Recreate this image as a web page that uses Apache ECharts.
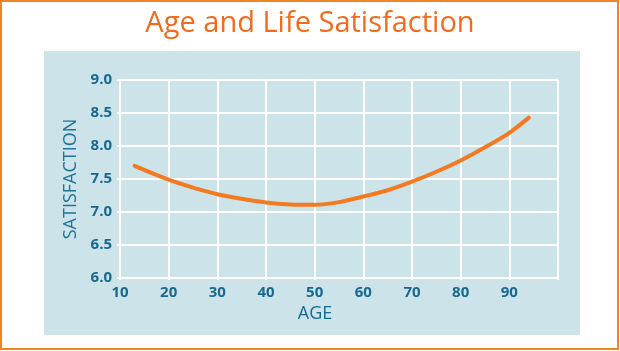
<!DOCTYPE html>
<html>
<head>
<meta charset="utf-8">
<style>
  html, body { margin: 0; padding: 0; background: #fff; }
  #chart { width: 620px; height: 351px; }
</style>
<script src="https://cdn.jsdelivr.net/npm/echarts@6/dist/echarts.min.js"></script>
</head>
<body>
<div id="chart"></div>
<script>
const ages = [13, 20, 25, 30, 35, 40, 45, 50, 55, 60, 65, 70, 75, 80, 85, 90, 94]
const satisfaction = [7.70, 7.49, 7.37, 7.27, 7.20, 7.145, 7.115, 7.11, 7.15, 7.235, 7.33, 7.46, 7.61, 7.78, 7.98, 8.20, 8.43]
const xTicks = [10, 20, 30, 40, 50, 60, 70, 80, 90]
const yTicks = ['6.0', '6.5', '7.0', '7.5', '8.0', '8.5', '9.0']

const labelColor = '#17698e'
const orange = '#f47a20'

const chart = echarts.init(document.getElementById('chart'))

const option = {
  backgroundColor: '#fff',
  animation: false,
  title: {
    text: 'Age and Life Satisfaction',
    left: 'center',
    top: 4,
    textStyle: {
      color: '#f26b1d',
      fontFamily: 'Open Sans',
      fontWeight: 'normal',
      fontSize: 29,
    },
  },
  graphic: [
    {
      type: 'rect',
      z: -10,
      shape: { x: 44, y: 51, width: 536, height: 284 },
      style: { fill: '#cde3ea' },
    },
    {
      type: 'rect',
      z: 100,
      shape: { x: 1, y: 1, width: 617, height: 348 },
      style: { fill: 'none', stroke: '#f08526', lineWidth: 2 },
    },
  ],
  grid: {
    left: 120,
    right: 62,
    top: 80,
    bottom: 73,
  },
  xAxis: {
    type: 'value',
    min: 10,
    max: 100,
    interval: 10,
    name: 'AGE',
    nameLocation: 'middle',
    nameGap: 25,
    nameTextStyle: {
      color: labelColor,
      fontFamily: 'Open Sans',
      fontSize: 18,
      padding: [0, 48, 0, 0],
    },
    axisLine: { show: true, lineStyle: { color: '#fff', width: 2 } },
    axisTick: { show: true, length: 2, lineStyle: { color: '#fff', width: 2 } },
    splitLine: { show: true, lineStyle: { color: '#fff', width: 2 } },
    axisLabel: {
      margin: 7,
      color: labelColor,
      fontFamily: 'Open Sans',
      fontWeight: 'bold',
      fontSize: 15,
      formatter: (v) => (xTicks.includes(v) ? String(v) : ''),
    },
  },
  yAxis: {
    type: 'value',
    min: 6,
    max: 9,
    interval: 0.5,
    name: 'SATISFACTION',
    nameLocation: 'middle',
    nameGap: 36,
    nameTextStyle: {
      color: '#1f7398',
      fontFamily: 'Open Sans',
      fontSize: 18,
    },
    axisLine: { show: true, lineStyle: { color: '#fff', width: 2 } },
    axisTick: { show: true, length: 3, lineStyle: { color: '#fff', width: 2 } },
    splitLine: { show: true, lineStyle: { color: '#fff', width: 2 } },
    axisLabel: {
      margin: 8,
      color: labelColor,
      fontFamily: 'Open Sans',
      fontWeight: 'bold',
      fontSize: 15,
      formatter: (v) => yTicks.find((t) => Math.abs(parseFloat(t) - v) < 1e-6) || '',
    },
  },
  series: [
    {
      type: 'line',
      smooth: 0.3,
      showSymbol: false,
      data: ages.map((a, i) => [a, satisfaction[i]]),
      lineStyle: { color: orange, width: 4, cap: 'round' },
    },
  ],
}

chart.setOption(option)
</script>
</body>
</html>
